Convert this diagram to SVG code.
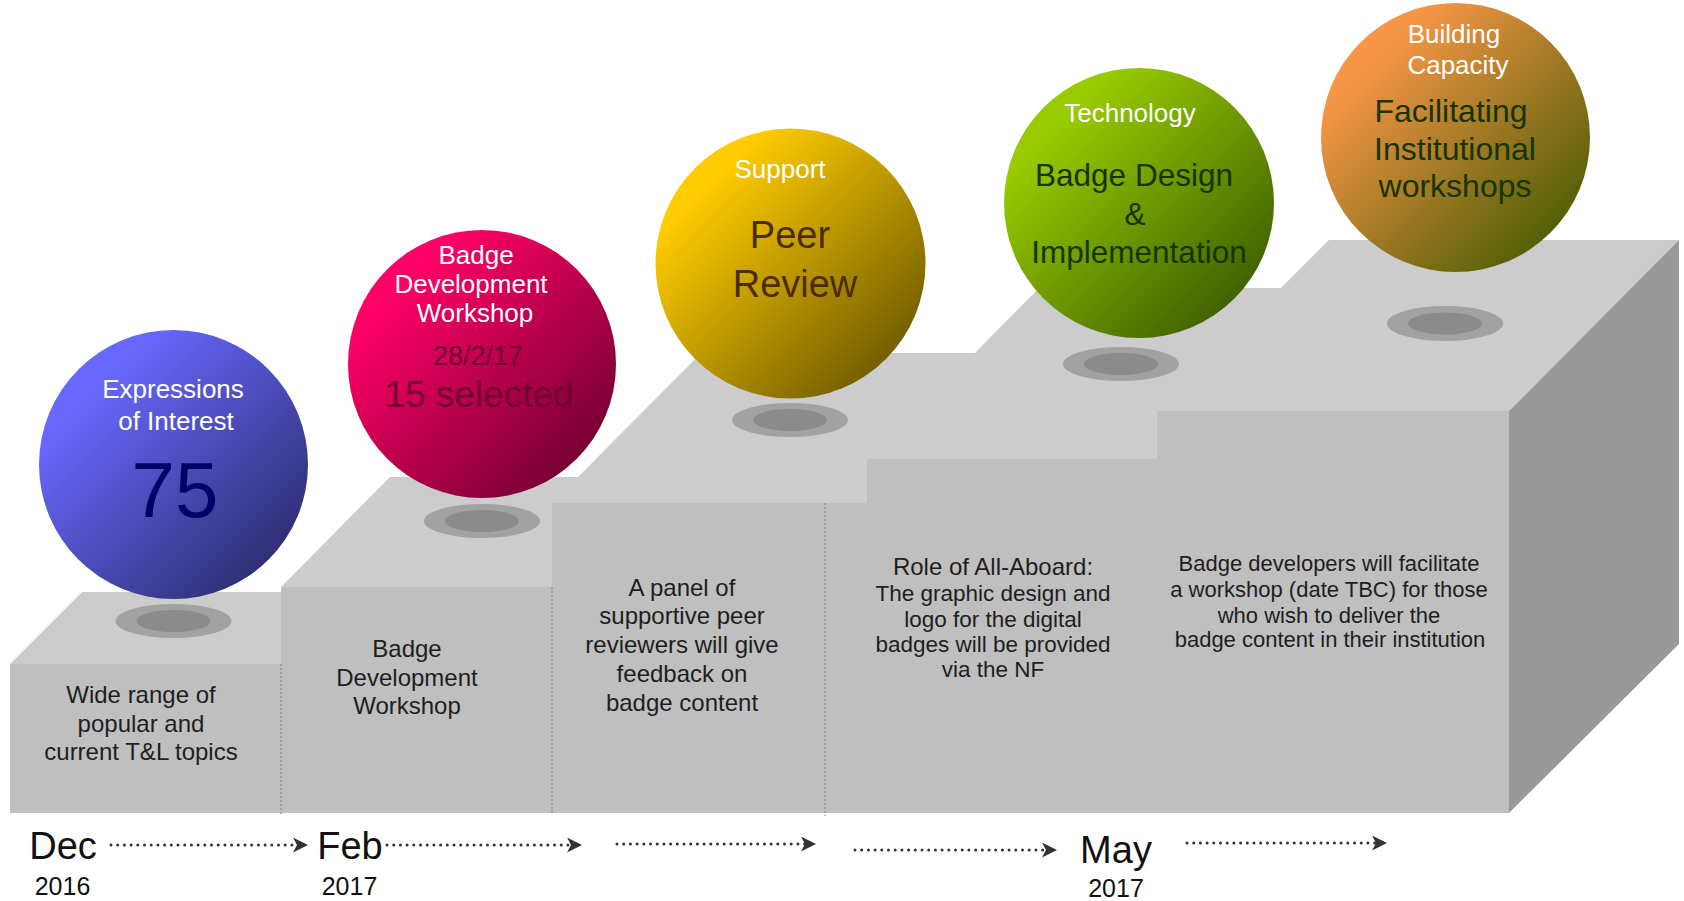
<svg xmlns="http://www.w3.org/2000/svg" width="1684" height="901" viewBox="0 0 1684 901">
<defs>
<style>
.top{fill:#cccccc}
.front{fill:#bfbfbf}
.side{fill:#999999}
.div{stroke:#8a8a8a;stroke-width:1.2;stroke-dasharray:2 2;fill:none}
.sh1{fill:#a2a2a2}
.sh2{fill:#8b8b8b}
text{font-family:"Liberation Sans",Arial,sans-serif;text-anchor:middle}
.wl{fill:#ffffff;font-size:26px}
.ft{fill:#1e1e1e;font-size:24px}
.ft2{fill:#1e1e1e;font-size:22.5px}
.ft3{fill:#1e1e1e;font-size:22px}
.mon{fill:#111111;font-size:38px}
.yr{fill:#111111;font-size:25px}
.arr{stroke:#333333;stroke-width:3;stroke-linecap:round;stroke-dasharray:0 6.7;fill:none;marker-end:url(#ah)}
</style>
<linearGradient id="gBlue" x1="0.2" y1="0.2" x2="0.92" y2="0.92"><stop offset="0" stop-color="#6868ff"/><stop offset="1" stop-color="#2a2a68"/></linearGradient>
<linearGradient id="gPink" x1="0.2" y1="0.2" x2="0.92" y2="0.92"><stop offset="0" stop-color="#ff0066"/><stop offset="1" stop-color="#6a002e"/></linearGradient>
<linearGradient id="gYellow" x1="0.2" y1="0.2" x2="0.92" y2="0.92"><stop offset="0" stop-color="#ffcc00"/><stop offset="1" stop-color="#665400"/></linearGradient>
<linearGradient id="gGreen" x1="0.2" y1="0.2" x2="0.92" y2="0.92"><stop offset="0" stop-color="#99cc00"/><stop offset="1" stop-color="#385800"/></linearGradient>
<linearGradient id="gOrange" x1="0.2" y1="0.2" x2="0.92" y2="0.92"><stop offset="0" stop-color="#f79646"/><stop offset="1" stop-color="#435a00"/></linearGradient>
<marker id="ah" markerUnits="userSpaceOnUse" markerWidth="16" markerHeight="16" refX="5" refY="7.5" orient="auto">
<path d="M0,0 L15,7.5 L0,15 L4,7.5 z" fill="#333333"/>
</marker>
</defs>

<g id="staircase">
<polygon class="top" points="10,664 82,592 281,592 281,587 390,477 578,477 701,353 975,353 1039,288 1281,288 1329,240 1679,240 1509,411 1509,813 10,813"/>
<polygon class="side" points="1509,411 1679,240 1679,644 1509,813"/>
<rect class="front" x="10" y="664" width="271" height="149"/>
<rect class="front" x="281" y="587" width="271" height="226"/>
<rect class="front" x="552" y="503" width="316" height="310"/>
<rect class="front" x="867" y="459" width="291" height="354"/>
<rect class="front" x="1157" y="411" width="352" height="402"/>
<line class="div" x1="281" y1="664" x2="281" y2="814"/>
<line class="div" x1="552" y1="587" x2="552" y2="814"/>
<line class="div" x1="825" y1="503" x2="825" y2="816"/>
</g>

<g id="node-expressions">
<ellipse class="sh1" cx="173.5" cy="621" rx="58" ry="17"/>
<ellipse class="sh2" cx="173.5" cy="621" rx="37" ry="11"/>
<circle cx="173.5" cy="464.5" r="134.5" fill="url(#gBlue)"/>
<text class="wl" x="173" y="398">Expressions</text>
<text class="wl" x="176" y="430">of Interest</text>
<text x="175" y="517" font-size="78" fill="#000066">75</text>
<text class="ft" x="141" y="703">Wide range of</text>
<text class="ft" x="141" y="732">popular and</text>
<text class="ft" x="141" y="760">current T&amp;L topics</text>
</g>

<g id="node-workshop">
<ellipse class="sh1" cx="482" cy="521" rx="58" ry="17"/>
<ellipse class="sh2" cx="482" cy="521" rx="37" ry="11"/>
<circle cx="482" cy="364" r="134" fill="url(#gPink)"/>
<text class="wl" x="476" y="264" font-size="25">Badge</text>
<text class="wl" x="471" y="293" font-size="25">Development</text>
<text class="wl" x="475" y="322" font-size="25">Workshop</text>
<text x="478" y="365" font-size="27" fill="#6e0033">28/2/17</text>
<text x="479" y="407" font-size="37" fill="#730034">15 selected</text>
<text class="ft" x="407" y="657">Badge</text>
<text class="ft" x="407" y="686">Development</text>
<text class="ft" x="407" y="714">Workshop</text>
</g>

<g id="node-peer-review">
<ellipse class="sh1" cx="790" cy="420" rx="58" ry="17"/>
<ellipse class="sh2" cx="790" cy="420" rx="37" ry="11"/>
<circle cx="790.5" cy="263.5" r="135" fill="url(#gYellow)"/>
<text class="wl" x="780" y="178">Support</text>
<text x="790" y="248" font-size="38" fill="#4a2c00">Peer</text>
<text x="795" y="297" font-size="38" fill="#4a2c00">Review</text>
<text class="ft" x="682" y="596">A panel of</text>
<text class="ft" x="682" y="624">supportive peer</text>
<text class="ft" x="682" y="653">reviewers will give</text>
<text class="ft" x="682" y="682">feedback on</text>
<text class="ft" x="682" y="711">badge content</text>
</g>

<g id="node-technology">
<ellipse class="sh1" cx="1121" cy="364" rx="58" ry="17"/>
<ellipse class="sh2" cx="1121" cy="364" rx="37" ry="11"/>
<circle cx="1139" cy="203" r="135" fill="url(#gGreen)"/>
<text class="wl" x="1130" y="122">Technology</text>
<text x="1134" y="186" font-size="31.5" fill="#163400">Badge Design</text>
<text x="1135" y="225" font-size="31.5" fill="#163400">&amp;</text>
<text x="1139" y="263" font-size="31.5" fill="#163400">Implementation</text>
<text x="993" y="575" font-size="24" fill="#1e1e1e">Role of All-Aboard:</text>
<text class="ft2" x="993" y="601">The graphic design and</text>
<text class="ft2" x="993" y="627">logo for the digital</text>
<text class="ft2" x="993" y="652">badges will be provided</text>
<text class="ft2" x="993" y="677">via the NF</text>
</g>

<g id="node-capacity">
<ellipse class="sh1" cx="1445" cy="323.5" rx="58" ry="17.5"/>
<ellipse class="sh2" cx="1445" cy="323.5" rx="37" ry="11"/>
<circle cx="1455.5" cy="137.5" r="134.5" fill="url(#gOrange)"/>
<text class="wl" x="1454" y="43">Building</text>
<text class="wl" x="1458" y="74">Capacity</text>
<text x="1451" y="122" font-size="32" fill="#163400">Facilitating</text>
<text x="1455" y="160" font-size="32" fill="#163400">Institutional</text>
<text x="1455" y="197" font-size="32" fill="#163400">workshops</text>
<text class="ft3" x="1329" y="571">Badge developers will facilitate</text>
<text class="ft3" x="1329" y="597">a workshop (date TBC) for those</text>
<text class="ft3" x="1329" y="623">who wish to deliver the</text>
<text class="ft3" x="1330" y="647">badge content in their institution</text>
</g>

<g id="timeline-labels">
<text class="mon" x="63" y="859">Dec</text>
<text class="yr" x="62.5" y="895">2016</text>
<text class="mon" x="350" y="859">Feb</text>
<text class="yr" x="349.5" y="895">2017</text>
<text class="mon" x="1116" y="863">May</text>
<text class="yr" x="1116" y="897">2017</text>
</g>

<g id="connectors">
<line class="arr" x1="111" y1="845" x2="298" y2="845"/>
<line class="arr" x1="387" y1="845" x2="572" y2="845"/>
<line class="arr" x1="617" y1="844" x2="806" y2="844"/>
<line class="arr" x1="855" y1="850" x2="1047" y2="850"/>
<line class="arr" x1="1187" y1="843" x2="1377" y2="843"/>
</g>
</svg>
